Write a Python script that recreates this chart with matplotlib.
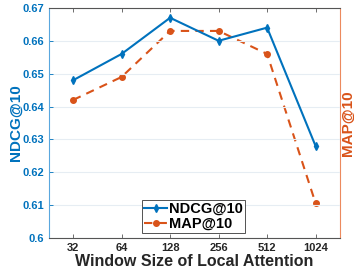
import matplotlib
matplotlib.use('Agg')
import matplotlib.pyplot as plt

# data
window_sizes = ['32', '64', '128', '256', '512', '1024']
ndcg = [0.648, 0.656, 0.667, 0.660, 0.664, 0.628]
map10 = [0.642, 0.649, 0.663, 0.663, 0.656, 0.6106]
yticks = [0.60, 0.61, 0.62, 0.63, 0.64, 0.65, 0.66, 0.67]

blue = '#0072BD'
orange = '#D95319'

plt.rcParams['font.family'] = ['Liberation Sans', 'DejaVu Sans']
plt.rcParams['font.weight'] = 'bold'

fig = plt.figure(figsize=(3.54, 2.73), dpi=100)
ax = fig.add_axes([0.138, 0.128, 0.822, 0.843])
ax2 = ax.twinx()

x = list(range(1, len(window_sizes) + 1))
l1, = ax.plot(x, ndcg, '-d', color=blue, lw=1.5, ms=4, label='NDCG@10')
l2, = ax2.plot(x, map10, '--o', color=orange, lw=1.5, ms=4, dashes=(4, 3), label='MAP@10')

for a in (ax, ax2):
    a.set_ylim(0.6, 0.67)
    a.set_xlim(0.5, 6.5)
    a.set_yticks(yticks)
ax.set_yticklabels([f'{v:g}' for v in yticks], fontsize=8, color=blue, fontweight='bold')
ax2.set_yticklabels([])
ax.set_xticks(x)
ax.set_xticklabels(window_sizes, fontsize=8, fontweight='bold', color='#262626')

ax.grid(True, axis='y', color='#e6edf3', lw=0.8)
ax.set_axisbelow(True)
ax.tick_params(direction='in', length=3, top=True, width=0.6)
ax.tick_params(axis='y', colors=blue, labelcolor=blue)
ax.tick_params(axis='x', colors='#555555', labelcolor='#262626')
ax2.tick_params(direction='in', length=3, colors='#6a9cc9', width=0.6)

ax.spines['left'].set_color('#5aa7de')
ax.spines['right'].set_visible(False)
ax.spines['top'].set_color('#555555')
ax.spines['bottom'].set_color('#555555')
for s in ('left', 'top', 'bottom'):
    ax2.spines[s].set_visible(False)
ax2.spines['right'].set_color('#ec8a5e')
for s in ax.spines.values():
    s.set_linewidth(0.8)

ax.set_xlabel('Window Size of Local Attention', fontsize=11.5, fontweight='bold',
              color='#262626', labelpad=1)
# axis titles placed by hand so the right one stays inside the canvas
fig.text(0.044, 0.549, 'NDCG@10', rotation=90, ha='center', va='center',
         fontsize=11, fontweight='bold', color=blue)
fig.text(0.982, 0.549, 'MAP@10', rotation=90, ha='center', va='center',
         fontsize=11, fontweight='bold', color=orange)

leg = ax.legend(handles=[l1, l2], loc='lower center', bbox_to_anchor=(0.497, 0.022),
                prop={'weight': 'bold', 'size': 10.5}, frameon=True,
                fancybox=False, edgecolor='#262626', handlelength=1.6,
                handletextpad=0.1, borderpad=0.15, labelspacing=0.05, borderaxespad=0)
leg.get_frame().set_linewidth(0.7)
leg.set_zorder(5)
ax.set_zorder(ax2.get_zorder() + 1)
ax.patch.set_visible(False)

fig.savefig('out.png', dpi=100)
